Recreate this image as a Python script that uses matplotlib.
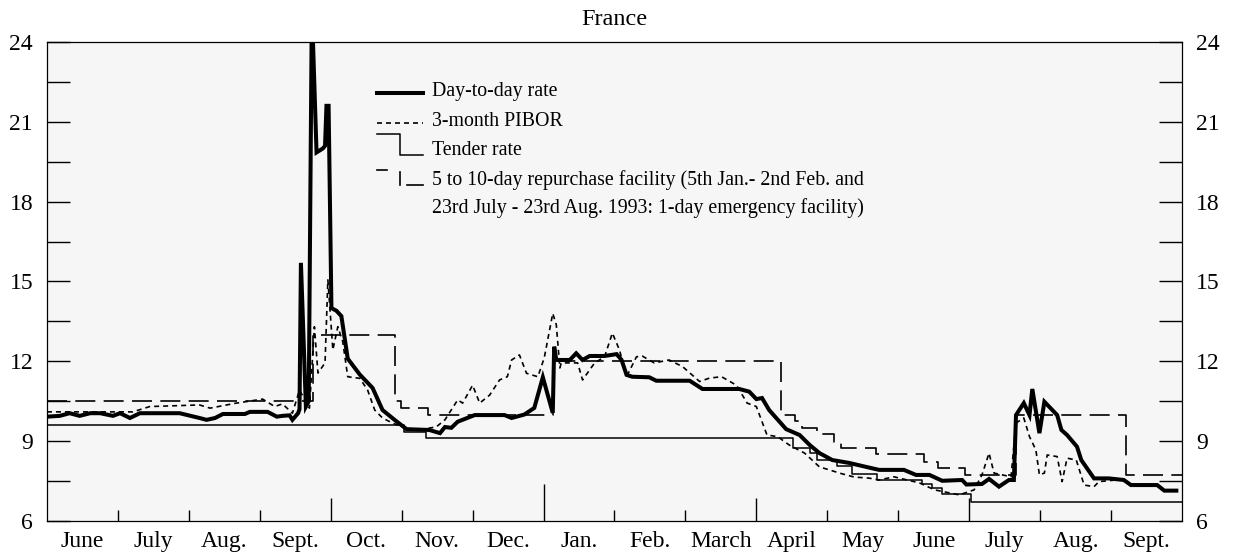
import matplotlib
matplotlib.use("Agg")
import matplotlib.pyplot as plt
from matplotlib.ticker import FixedLocator, NullFormatter

plt.rcParams["font.family"] = "serif"
plt.rcParams["font.serif"] = ["Liberation Serif", "DejaVu Serif"]

# x is months elapsed since 1 June 1992
MONTHS = ["June", "July", "Aug.", "Sept.", "Oct.", "Nov.", "Dec.", "Jan.",
          "Feb.", "March", "April", "May", "June", "July", "Aug.", "Sept."]

day_x = [0.00, 0.18, 0.32, 0.46, 0.61, 0.75, 0.93, 1.03, 1.17, 1.31, 1.87, 2.15,
         2.25, 2.37, 2.48, 2.79, 2.86, 3.11, 3.24, 3.32, 3.42, 3.46, 3.54, 3.56,
         3.58, 3.65, 3.69, 3.73, 3.75, 3.80, 3.89, 3.92, 3.94, 3.97, 4.01, 4.08,
         4.15, 4.24, 4.41, 4.59, 4.73, 4.90, 5.07, 5.39, 5.54, 5.61, 5.70, 5.79,
         6.03, 6.45, 6.55, 6.73, 6.87, 6.99, 7.13, 7.15, 7.18, 7.37, 7.46, 7.55,
         7.65, 7.86, 8.03, 8.10, 8.17, 8.25, 8.49, 8.59, 9.06, 9.24, 9.76, 9.90,
         10.00, 10.08, 10.18, 10.28, 10.42, 10.61, 10.75, 10.89, 11.07, 11.31,
         11.55, 11.73, 12.08, 12.25, 12.44, 12.62, 12.90, 12.96, 13.18, 13.28,
         13.42, 13.56, 13.63, 13.66, 13.77, 13.85, 13.89, 13.99, 14.06, 14.24,
         14.30, 14.38, 14.52, 14.58, 14.76, 14.97, 15.18, 15.28, 15.65, 15.75, 15.92]
day_y = [9.92, 9.95, 10.05, 9.95, 10.05, 10.05, 9.95, 10.05, 9.87, 10.05, 10.05, 9.87,
         9.80, 9.87, 10.02, 10.02, 10.10, 10.10, 9.92, 9.95, 9.97, 9.80, 10.05, 10.20,
         15.70, 10.30, 10.50, 24.00, 24.00, 19.85, 20.00, 20.10, 21.60, 21.60, 14.00, 13.90,
         13.70, 12.10, 11.50, 11.00, 10.17, 9.80, 9.45, 9.42, 9.30, 9.53, 9.50, 9.73,
         9.98, 9.98, 9.87, 10.00, 10.25, 11.40, 10.06, 12.55, 12.05, 12.05, 12.30, 12.05,
         12.20, 12.20, 12.27, 12.05, 11.49, 11.42, 11.40, 11.27, 11.27, 10.96, 10.96, 10.86,
         10.58, 10.62, 10.17, 9.87, 9.45, 9.23, 8.86, 8.55, 8.29, 8.18,
         8.03, 7.92, 7.92, 7.73, 7.73, 7.51, 7.54, 7.37, 7.39, 7.58,
         7.29, 7.54, 7.54, 9.98, 10.43, 9.98, 10.96, 9.30, 10.48, 9.98,
         9.42, 9.23, 8.79, 8.29, 7.60, 7.60, 7.54, 7.35, 7.35, 7.14, 7.14]

pibor_x = [0.00, 0.46, 1.21, 1.45, 2.15, 2.30, 2.65, 3.04, 3.21, 3.32, 3.46, 3.56,
           3.70, 3.77, 3.82, 3.92, 3.96, 4.03, 4.10, 4.17, 4.24, 4.41, 4.52, 4.62,
           4.73, 4.87, 5.04, 5.25, 5.49, 5.61, 5.79, 5.86, 6.00, 6.10, 6.24, 6.38,
           6.49, 6.55, 6.66, 6.76, 6.92, 7.01, 7.13, 7.18, 7.23, 7.25, 7.48, 7.55,
           7.72, 7.86, 7.97, 8.07, 8.17, 8.31, 8.39, 8.56, 8.77, 8.96, 9.20, 9.34,
           9.51, 9.72, 9.87, 10.00, 10.15, 10.30, 10.46, 10.68, 10.89, 11.03, 11.17,
           11.38, 11.59, 11.73, 11.94, 12.08, 12.30, 12.51, 12.86, 13.07, 13.18,
           13.28, 13.35, 13.59, 13.66, 13.77, 13.85, 13.94, 13.99, 14.06, 14.10,
           14.24, 14.31, 14.38, 14.51, 14.62, 14.76, 14.83, 15.11]
pibor_y = [10.10, 10.10, 10.10, 10.30, 10.36, 10.24, 10.42, 10.58, 10.30, 10.40, 10.05, 10.92,
           10.24, 13.30, 11.56, 11.94, 15.06, 12.43, 13.30, 12.73, 11.42, 11.36, 10.92, 10.17,
           9.87, 9.68, 9.50, 9.42, 9.54, 9.80, 10.55, 10.43, 11.10, 10.43, 10.73, 11.30,
           11.42, 12.05, 12.24, 11.55, 11.42, 12.13, 13.80, 13.37, 11.75, 11.94, 11.94, 11.30,
           11.94, 12.17, 13.06, 12.43, 11.42, 12.17, 12.20, 11.94, 12.05, 11.80, 11.24, 11.37,
           11.42, 11.10, 10.43, 10.30, 9.23, 9.17, 8.86, 8.55, 8.03, 7.92, 7.80,
           7.65, 7.61, 7.54, 7.66, 7.57, 7.43, 7.17, 6.98, 7.17, 7.73,
           8.55, 7.80, 7.66, 9.68, 9.87, 9.17, 8.67, 7.73, 7.80, 8.48,
           8.42, 7.48, 8.36, 8.29, 7.35, 7.29, 7.48, 7.55]

# step series: each level holds from its start until the next start
tender_x = [0.00, 5.04, 5.35, 10.51, 10.75, 10.86, 11.14, 11.35, 11.70, 12.34, 12.48,
            12.62, 13.03, 16.00]
tender_y = [9.60, 9.35, 9.10, 8.74, 8.55, 8.29, 8.06, 7.77, 7.54, 7.39, 7.25,
            7.00, 6.73, 6.73]

repo_x = [0.00, 3.75, 4.90, 4.99, 5.37, 7.13, 10.35, 10.54, 10.65, 10.86, 11.10,
          11.20, 11.69, 12.37, 12.56, 12.94, 13.66, 15.21, 16.00]
repo_y = [10.50, 13.00, 10.50, 10.25, 10.00, 12.00, 10.00, 9.75, 9.48, 9.26, 8.98,
          8.73, 8.50, 8.23, 7.98, 7.73, 10.00, 7.73, 7.73]

LEGEND_TEXT = ["Day-to-day rate", "3-month PIBOR", "Tender rate",
               "5 to 10-day repurchase facility (5th Jan.- 2nd Feb. and",
               "23rd July - 23rd Aug. 1993: 1-day emergency facility)"]

REPO_DASH = (0, (12, 5))
PIBOR_DASH = (0, (3, 2.4))

fig = plt.figure(figsize=(12.39, 5.56), dpi=100)
ax = fig.add_axes([0.0379, 0.063, 0.9161, 0.8615])
ax.set_facecolor("#f6f6f6")

ax.step(tender_x, tender_y, where="post", color="black", lw=1.1, zorder=2)
ax.step(repo_x, repo_y, where="post", color="black", lw=1.2,
        linestyle=REPO_DASH, zorder=2)
ax.plot(pibor_x, pibor_y, color="black", lw=1.2, linestyle=PIBOR_DASH, zorder=3)
ax.plot(day_x, day_y, color="black", lw=2.9, solid_joinstyle="miter", zorder=4)

ax.set_xlim(0, 16)
ax.set_ylim(6, 24)

# y axis: labels every 3 on both sides, half-steps as unlabeled ticks
ax.set_yticks(range(6, 25, 3))
ax.yaxis.set_minor_locator(FixedLocator([7.5 + 3 * i for i in range(6)]))
ax.tick_params(axis="y", which="both", direction="in", length=16.5, width=1.0,
               left=True, right=True, labelleft=True, labelright=True,
               labelsize=17, pad=10)

# x axis: month boundaries as ticks, names centred within each month
ax.set_xticks(range(1, 16))
ax.xaxis.set_major_formatter(NullFormatter())
ax.set_xticks([m + 0.5 for m in range(16)], minor=True)
ax.set_xticklabels(MONTHS, minor=True)
ax.tick_params(axis="x", which="major", direction="in", length=8, width=1.0)
ax.tick_params(axis="x", which="minor", length=0, labelsize=17, pad=7)
for pos, tick in zip(range(1, 16), ax.xaxis.get_major_ticks()):
    if pos == 7:
        tick.tick1line.set_markersize(27)
    elif pos in (4, 10, 13):
        tick.tick1line.set_markersize(16.5)

for sp in ax.spines.values():
    sp.set_linewidth(0.9)

ax.set_title("France", fontsize=17.5, pad=12)

# hand-drawn legend keys in axes coordinates
tr = ax.transAxes
x0, x1, xm = 0.291, 0.331, 0.311
ax.plot([x0, x1], [0.894, 0.894], color="black", lw=2.9, transform=tr)
ax.plot([x0, x1], [0.831, 0.831], color="black", lw=1.2,
        linestyle=PIBOR_DASH, transform=tr)
ax.plot([x0, xm, xm, x1], [0.808, 0.808, 0.764, 0.764], color="black", lw=1.1,
        transform=tr)
ax.plot([x0, 0.300], [0.733, 0.733], color="black", lw=1.2, transform=tr)
ax.plot([xm, xm], [0.729, 0.701], color="black", lw=1.2, transform=tr)
ax.plot([0.317, x1], [0.701, 0.701], color="black", lw=1.2, transform=tr)
for txt, yb in zip(LEGEND_TEXT, [0.887, 0.825, 0.764, 0.701, 0.643]):
    ax.text(0.339, yb, txt, transform=tr, fontsize=14.3, va="baseline", ha="left")

fig.savefig("out.png", dpi=100)
